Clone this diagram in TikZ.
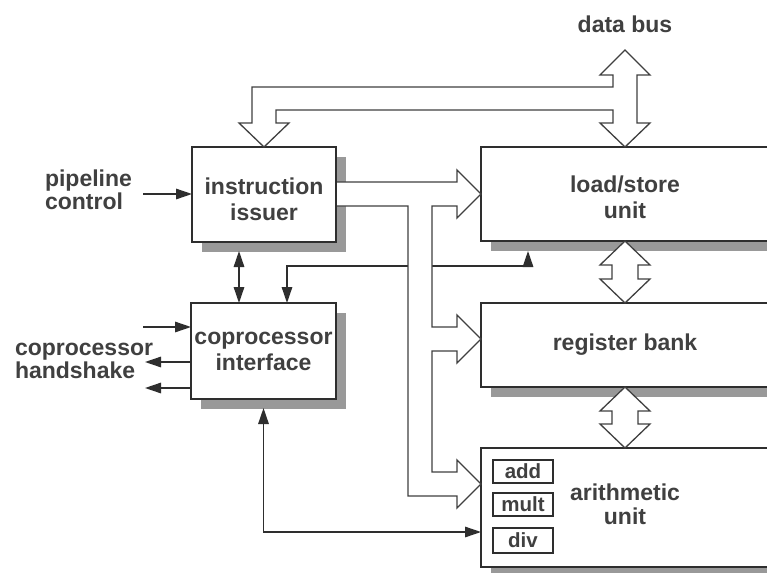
\documentclass[tikz,border=0pt]{standalone}
\usepackage{fontspec}
\setmainfont{Liberation Sans}
\usetikzlibrary{arrows.meta,shadows,calc}
\begin{document}
\begin{tikzpicture}[x=1pt,y=-1pt,
  font=\bfseries\fontsize{23}{26}\selectfont, text=black!75,
  box/.style={draw=black!82, line width=2.6pt, fill=white, inner sep=0pt, outer sep=0pt, align=center,
    drop shadow={shadow xshift=10pt, shadow yshift=-10pt, fill=black!40, opacity=1}},
  rbox/.style={box, minimum width=288pt},
  sub/.style={draw=black!82, line width=1.5pt, fill=white, inner sep=0pt, outer sep=0pt, minimum width=60pt,
    font=\bfseries\fontsize{20.5}{22}\selectfont},
  lbl/.style={inner sep=0pt, outer sep=0pt, align=left, anchor=west, font=\bfseries\fontsize{23}{23}\selectfont},
  sig/.style={draw=black!82, line width=1.4pt, >={Triangle[length=16pt,width=10.5pt]}},
  bus/.style={draw=black!75, line width=1.3pt, fill=white, line join=miter},
]
\fill[white] (0,0) rectangle (767,572);
\useasboundingbox (0,0) rectangle (767,572);

% blocks
\node[box, minimum width=144pt, minimum height=95pt] (iss) at (264,194.5) {\rule{0pt}{27pt}instruction\\issuer};
\node[box, minimum width=145pt, minimum height=96pt] (cop) at (263.5,351) {\rule{0pt}{19pt}coprocessor\\interface\rule[-7pt]{0pt}{7pt}};
\node[rbox, minimum height=94pt] (ls) at (625,194) {\rule{0pt}{24pt}load/store\\unit};
\node[rbox, minimum height=84pt] (rb) at (625,345) {register bank};
\node[rbox, minimum height=119pt, font=\bfseries\fontsize{23}{24}\selectfont] (au) at (625,507.5) {\rule{0pt}{19pt}arithmetic\\unit\rule[-9pt]{0pt}{9pt}};
\node[sub, minimum height=23pt] (add) at (523,471.5) {add};
\node[sub, minimum height=23pt] (mult) at (523,504.5) {mult};
\node[sub, minimum height=25pt] (div) at (523,540.5) {div};

% labels
\node[lbl] (pc) at (45,191) {\rule{0pt}{19pt}pipeline\\control\rule[-6pt]{0pt}{6pt}};
\node[lbl] (hs) at (15,360) {\rule{0pt}{19pt}coprocessor\\handshake\rule[-6pt]{0pt}{6pt}};
\node[inner sep=0pt, anchor=base] (db) at (625,33) {data bus};

% thin signal lines
\coordinate (pcin) at (143,194);
\coordinate (hsin) at (143,327);
\coordinate (hsout1) at (145,362);
\coordinate (hsout2) at (145,388);
\draw[sig,->] (pcin) -- (iss.west |- pcin);
\draw[sig,->] (hsin) -- (cop.west |- hsin);
\draw[sig,->] (cop.west |- hsout1) -- (hsout1);
\draw[sig,->] (cop.west |- hsout2) -- (hsout2);
\draw[sig,<->] ([xshift=-25pt,yshift=-9pt]iss.south) -- ([xshift=-24.5pt]cop.north);
\draw[sig,<->] ([xshift=-97pt,yshift=-10pt]ls.south) |- ([xshift=23.5pt,yshift=37pt]cop.north) -- ([xshift=23.5pt]cop.north);
\draw[sig,<->] ([yshift=-9pt]cop.south) |- ([yshift=-24.5pt]au.west);

% hollow bus from instruction issuer
\draw[bus] (337,182) -- (457,182) -- (457,170) -- (ls.west) -- (457,218) -- (457,206) -- (432,206)
  -- (432,327) -- (457,327) -- (457,315) -- ($(rb.west)+(0,-6)$) -- (457,363) -- (457,351) -- (432,351)
  -- (432,472) -- (457,472) -- (457,460) -- ($(au.west)+(0,-23.5)$) -- (457,508) -- (457,496)
  -- (408,496) -- (408,206) -- (337,206);

% data bus
\coordinate (dbtip) at (625,50);
\draw[bus] (dbtip) -- (650,75) -- (637,75) -- (637,123) -- (650,123) -- (ls.north) -- (600,123) -- (613,123)
  -- (613,110) -- (276,110) -- (276,123) -- (289,123) -- (iss.north) -- (239,123) -- (252,123)
  -- (252,87) -- (613,87) -- (613,75) -- (600,75) -- cycle;

% double arrows between units
\draw[bus] (ls.south) -- ++(25,24) -- ++(-12,0) -- ++(0,14) -- ++(12,0) -- (rb.north)
  -- ++(-25,-24) -- ++(12,0) -- ++(0,-14) -- ++(-12,0) -- cycle;
\draw[bus] (rb.south) -- ++(25,24) -- ++(-12,0) -- ++(0,13) -- ++(12,0) -- (au.north)
  -- ++(-25,-24) -- ++(12,0) -- ++(0,-13) -- ++(-12,0) -- cycle;
\end{tikzpicture}
\end{document}
